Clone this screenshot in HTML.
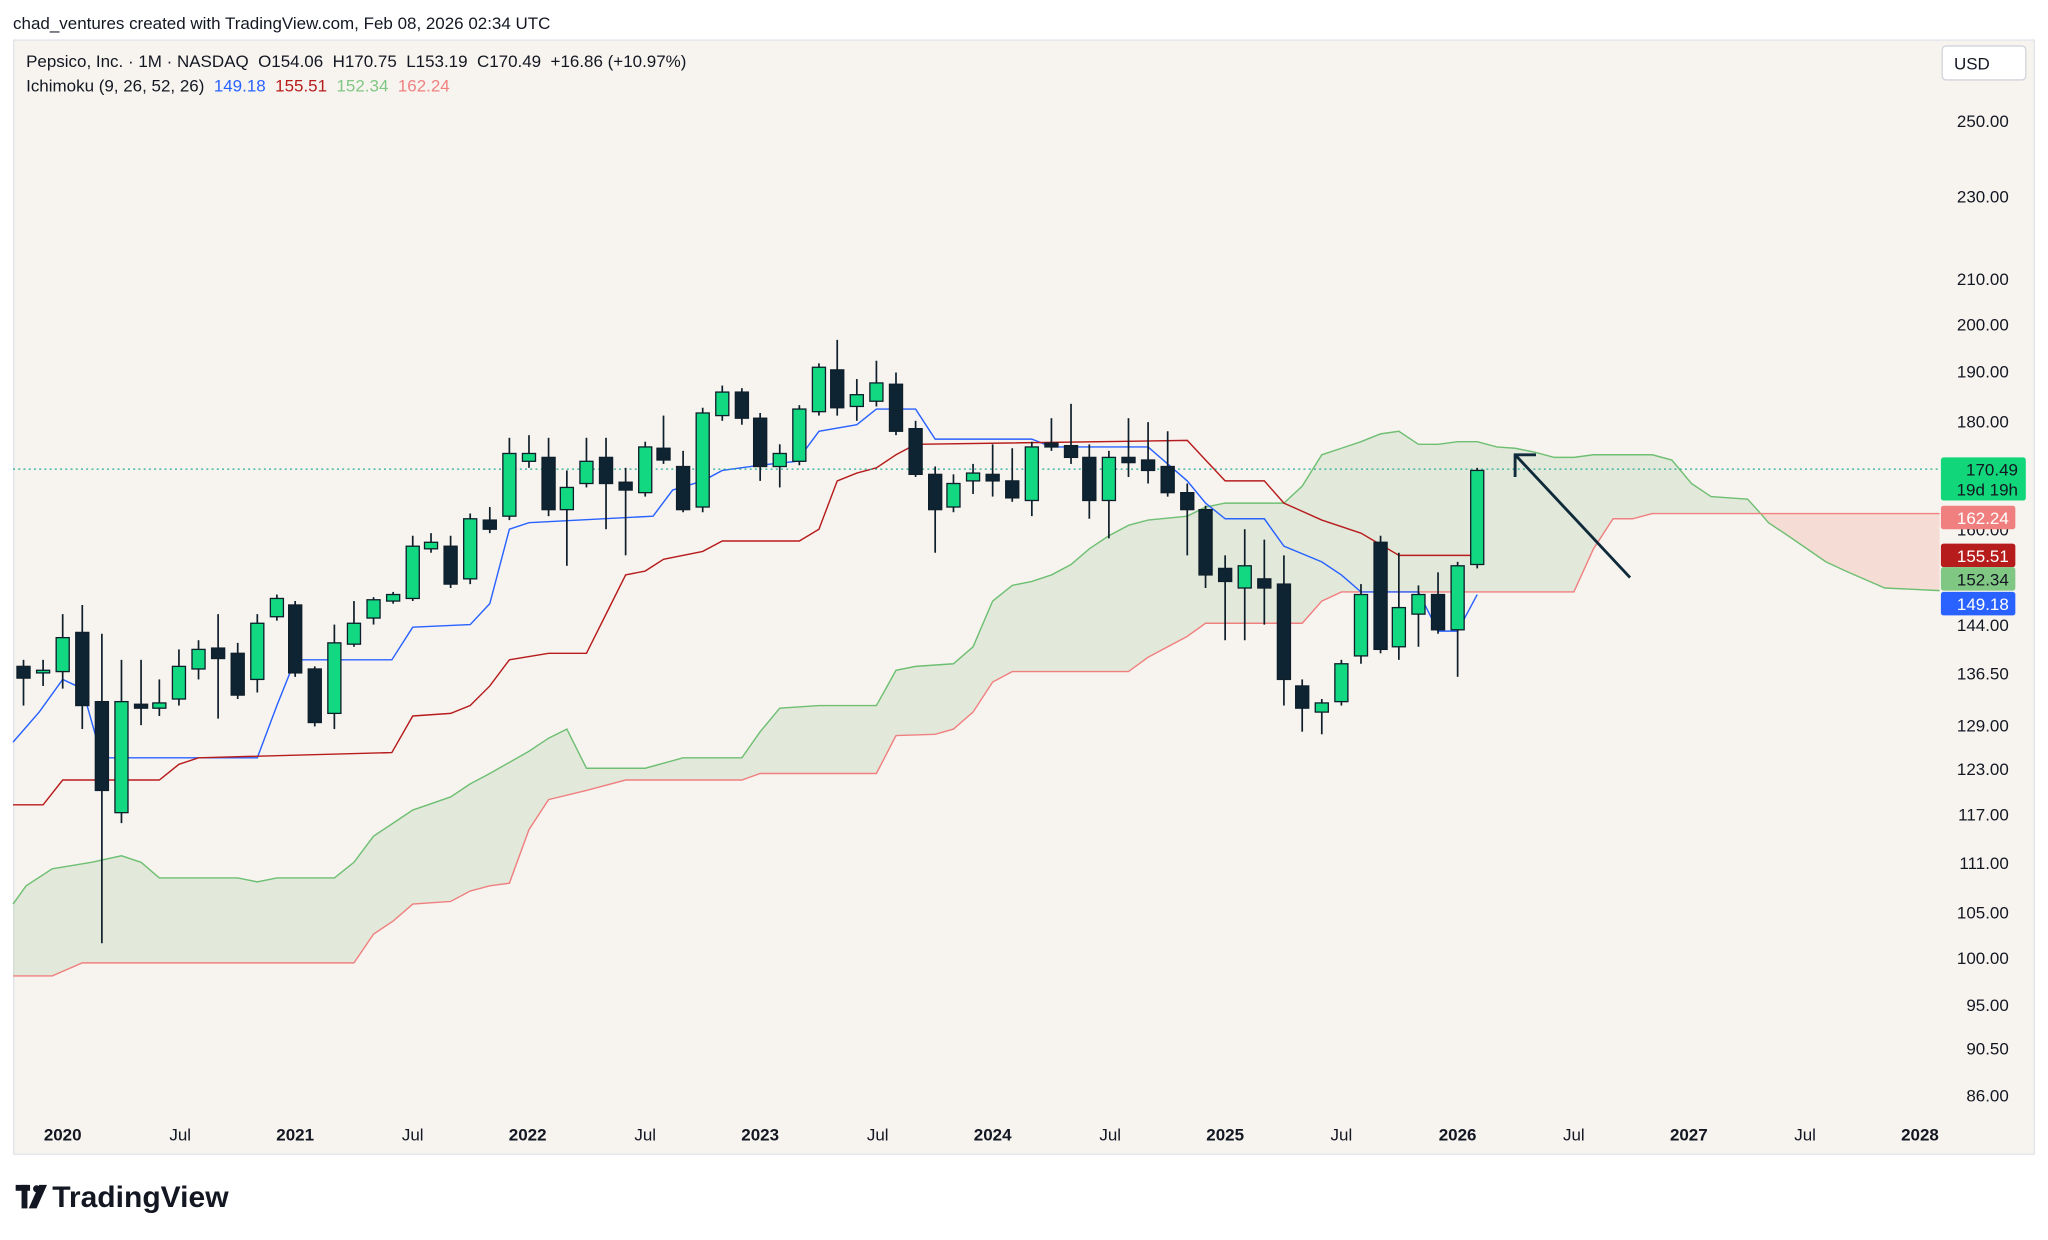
<!DOCTYPE html>
<html><head><meta charset="utf-8"><style>
html,body{margin:0;padding:0;background:#fff;}
svg{display:block;font-family:"Liberation Sans",Arial,sans-serif;}
text{white-space:pre;}
</style></head><body>
<svg id="c" width="2048" height="1240" viewBox="0 0 1568 949" xmlns="http://www.w3.org/2000/svg">
<rect x="0" y="0" width="1568" height="949" fill="#ffffff"/>
<text x="10" y="22" font-size="13" fill="#131722">chad_ventures created with TradingView.com, Feb 08, 2026 02:34 UTC</text>
<rect x="10.5" y="30.5" width="1547" height="853" fill="#f7f4f0" stroke="#e0e3eb"/>
<rect x="1485" y="31" width="72" height="852" fill="#f7f4f0"/>
<g id="cloud"></g>
<g id="lines"></g>
<line x1="10" y1="359" x2="1485" y2="359" stroke="#22ab94" stroke-width="1" stroke-dasharray="1.5,2.5"/>
<g id="candles"></g>
<line x1="1248" y1="442" x2="1161" y2="349" stroke="#0f2a3a" stroke-width="2.2"/>
<polyline points="1160,365 1160,348 1176,348" fill="none" stroke="#0f2a3a" stroke-width="2.2"/>
<g font-size="13" fill="#131722" text-anchor="end" id="yax">
<text x="1538" y="97">250.00</text><text x="1538" y="155">230.00</text><text x="1538" y="218">210.00</text>
<text x="1538" y="253">200.00</text><text x="1538" y="289">190.00</text><text x="1538" y="327">180.00</text>
<text x="1538" y="410">160.00</text><text x="1538" y="483">144.00</text><text x="1538" y="520">136.50</text>
<text x="1538" y="560">129.00</text><text x="1538" y="593">123.00</text><text x="1538" y="628">117.00</text>
<text x="1538" y="665">111.00</text><text x="1538" y="703">105.00</text><text x="1538" y="738">100.00</text>
<text x="1538" y="774">95.00</text><text x="1538" y="807">90.50</text><text x="1538" y="843">86.00</text>
</g>
<rect x="1487" y="35" width="64" height="26" rx="3" fill="#fff" stroke="#d1d4dc"/>
<text x="1496" y="53" font-size="13" fill="#131722">USD</text>
<rect x="1486" y="350" width="65" height="33" rx="2" fill="#11d67a"/>
<text x="1545" y="364" font-size="13" fill="#131722" text-anchor="end">170.49</text>
<text x="1545" y="379" font-size="13" fill="#131722" text-anchor="end">19d 19h</text>
<rect x="1486" y="387" width="57" height="18" rx="2" fill="#f08080"/>
<text x="1538" y="401" font-size="13" fill="#fff" text-anchor="end">162.24</text>
<rect x="1486" y="416" width="57" height="18" rx="2" fill="#b71c1c"/>
<text x="1538" y="430" font-size="13" fill="#fff" text-anchor="end">155.51</text>
<rect x="1486" y="434" width="57" height="18" rx="2" fill="#81c784"/>
<text x="1538" y="448" font-size="13" fill="#131722" text-anchor="end">152.34</text>
<rect x="1486" y="453" width="57" height="18" rx="2" fill="#2962ff"/>
<text x="1538" y="467" font-size="13" fill="#fff" text-anchor="end">149.18</text>
<g font-size="13" fill="#131722" text-anchor="middle">
<text x="48" y="873" font-weight="bold">2020</text><text x="138" y="873">Jul</text>
<text x="226" y="873" font-weight="bold">2021</text><text x="316" y="873">Jul</text>
<text x="404" y="873" font-weight="bold">2022</text><text x="494" y="873">Jul</text>
<text x="582" y="873" font-weight="bold">2023</text><text x="672" y="873">Jul</text>
<text x="760" y="873" font-weight="bold">2024</text><text x="850" y="873">Jul</text>
<text x="938" y="873" font-weight="bold">2025</text><text x="1027" y="873">Jul</text>
<text x="1116" y="873" font-weight="bold">2026</text><text x="1205" y="873">Jul</text>
<text x="1293" y="873" font-weight="bold">2027</text><text x="1382" y="873">Jul</text>
<text x="1470" y="873" font-weight="bold">2028</text>
</g>
<rect x="1485" y="855" width="72" height="27" fill="#f7f4f0"/>
<text x="20" y="51" font-size="13" fill="#131722">Pepsico, Inc. · 1M · NASDAQ  O154.06  H170.75  L153.19  C170.49  +16.86 (+10.97%)</text>
<text x="20" y="70" font-size="13" fill="#131722">Ichimoku (9, 26, 52, 26)  <tspan fill="#2962ff">149.18</tspan>  <tspan fill="#b71c1c">155.51</tspan>  <tspan fill="#81c784">152.34</tspan>  <tspan fill="#f08080">162.24</tspan></text>
<g fill="#131722"><rect x="12" y="907" width="11" height="4.5"/><rect x="16.5" y="907" width="4.5" height="18"/><circle cx="28" cy="910" r="2.7"/><polygon points="30,907 36,907 28,925 22,925"/></g>
<text x="40" y="924" font-size="23" font-weight="bold" fill="#131722">TradingView</text>
</svg>
<script>
var NS="http://www.w3.org/2000/svg";
function el(t,a,p){var e=document.createElementNS(NS,t);for(var k in a)e.setAttribute(k,a[k]);p.appendChild(e);return e;}
var A=[[10,692],[20,678],[40,665],[70,660],[93,655],[108,660],[122,672],[182,672],[197,675],[212,672],[256,672],[271,660],[286,640],[301,630],[316,620],[345,610],[360,600],[375,592],[405,575],[420,565],[434,558],[449,588],[494,588],[523,580],[568,580],[582,560],[597,542],[627,540],[671,540],[686,513],[701,510],[730,508],[745,495],[760,460],[775,448],[790,445],[805,440],[820,432],[834,420],[849,410],[864,402],[879,398],[909,395],[923,388],[938,385],[983,385],[997,372],[1012,348],[1027,343],[1042,338],[1057,332],[1071,330],[1086,340],[1101,340],[1116,338],[1131,338],[1146,342],[1160,343],[1175,346],[1190,350],[1205,350],[1220,348],[1265,348],[1280,352],[1295,370],[1310,380],[1338,382],[1348,393],[1354,400],[1369,410],[1398,430],[1413,437],[1443,450],[1485,452]];
var B=[[10,747],[40,747],[63,737],[271,737],[286,715],[301,705],[316,692],[345,690],[360,682],[375,678],[390,676],[405,635],[420,612],[449,605],[479,597],[568,597],[582,592],[671,592],[686,563],[716,562],[730,558],[745,545],[760,522],[775,514],[864,514],[879,503],[909,487],[923,477],[997,477],[1012,460],[1027,453],[1205,453],[1220,420],[1235,397],[1250,397],[1265,393],[1348,393],[1485,393]];
function seg(P,lo,hi){return P.filter(function(p){return p[0]>=lo&&p[0]<=hi;});}
function poly(a,b,fill){var pts=a.concat(b.slice().reverse()).map(function(p){return p.join(",")}).join(" ");el("polygon",{points:pts,fill:fill},document.getElementById("cloud"));}
poly(seg(A,0,1348),seg(B,0,1348),"rgba(165,200,150,0.25)");
poly(seg(A,1348,1500),seg(B,1348,1500),"rgba(240,128,110,0.2)");
var L=document.getElementById("lines");
function line(P,c){el("polyline",{points:P.map(function(p){return p.join(",")}).join(" "),fill:"none",stroke:c,"stroke-width":1.1},L);}
line(A,"#6fbf73");line(B,"#f08080");
line([[10,568],[30,545],[48,520],[63,527],[78,580],[197,580],[212,540],[226,505],[300,505],[316,480],[360,478],[375,462],[390,405],[405,400],[500,395],[515,375],[538,368],[553,360],[582,356],[610,353],[627,330],[656,325],[671,313],[701,313],[716,336],[790,336],[805,342],[879,342],[894,355],[909,368],[923,385],[938,397],[968,397],[983,418],[1012,430],[1027,440],[1042,453],[1086,453],[1101,483],[1116,483],[1131,455]],"#2962ff");
line([[10,616],[33,616],[48,597],[122,597],[137,585],[152,580],[300,576],[316,548],[345,546],[360,540],[375,525],[390,505],[420,500],[449,500],[464,470],[479,440],[494,437],[508,428],[538,422],[553,414],[612,414],[627,405],[641,368],[656,362],[671,358],[686,348],[701,340],[909,337],[923,352],[938,368],[968,368],[983,385],[1012,398],[1042,408],[1071,425],[1131,425]],"#b71c1c");
var C=[[18,510,519,505,540,0],[33,513,515,505,525,1],[48,488,514,470,527,1],[63,484,540,463,558,0],[78,537,605,485,722,0],[93,537,622,505,630,1],[108,539,542,505,555,0],[122,538,542,520,548,1],[137,510,535,497,540,1],[152,497,512,490,520,1],[167,496,504,470,550,0],[182,500,532,492,535,0],[197,477,520,470,530,1],[212,458,472,455,475,1],[226,463,515,460,518,0],[241,512,553,510,556,0],[256,492,546,478,558,1],[271,477,493,460,495,1],[286,459,473,457,478,1],[301,455,460,453,462,1],[316,418,458,410,460,1],[330,415,420,408,423,1],[345,418,447,410,450,0],[360,397,443,393,447,1],[375,398,405,388,408,0],[390,347,395,335,398,1],[405,347,353,333,358,1],[420,350,390,335,395,0],[434,373,390,360,433,1],[449,353,370,335,373,1],[464,350,370,335,405,0],[479,369,375,358,425,0],[494,342,377,338,380,1],[508,343,352,318,355,0],[523,357,390,345,392,0],[538,316,388,312,392,1],[553,300,318,295,322,1],[568,300,320,297,325,0],[582,320,357,316,368,0],[597,347,357,340,373,1],[612,313,353,310,356,1],[627,281,315,278,318,1],[641,283,312,260,318,0],[656,302,311,290,322,1],[671,293,307,276,311,1],[686,294,330,285,333,0],[701,328,363,322,365,0],[716,363,390,357,423,0],[730,370,388,363,392,1],[745,362,368,355,378,1],[760,363,368,340,380,0],[775,368,381,343,384,0],[790,342,383,338,395,1],[805,339,342,320,345,0],[820,341,350,309,355,0],[834,350,383,340,397,0],[849,350,383,345,412,1],[864,350,354,320,365,0],[879,352,360,323,370,0],[894,357,377,330,380,0],[909,377,390,370,425,0],[923,390,440,387,450,0],[938,435,445,425,490,0],[953,433,450,405,490,1],[968,443,450,413,478,0],[983,447,520,425,540,0],[997,525,542,520,560,0],[1012,538,545,535,562,1],[1027,508,537,505,540,1],[1042,455,502,447,508,1],[1057,415,497,410,500,0],[1071,465,495,423,505,1],[1086,455,470,448,495,1],[1101,455,482,438,485,0],[1116,433,482,430,518,1],[1131,360,432,358,435,1]];
var G=document.getElementById("candles");
C.forEach(function(c){var x=c[0];el("line",{x1:x,x2:x,y1:c[3],y2:c[4],stroke:"#0e1e2a","stroke-width":1.3},G);
el("rect",{x:x-5,y:c[1],width:10,height:Math.max(1.5,c[2]-c[1]),fill:c[5]?"#13d882":"#0e2433",stroke:"#0e1e2a","stroke-width":1},G);});
</script>
</body></html>
